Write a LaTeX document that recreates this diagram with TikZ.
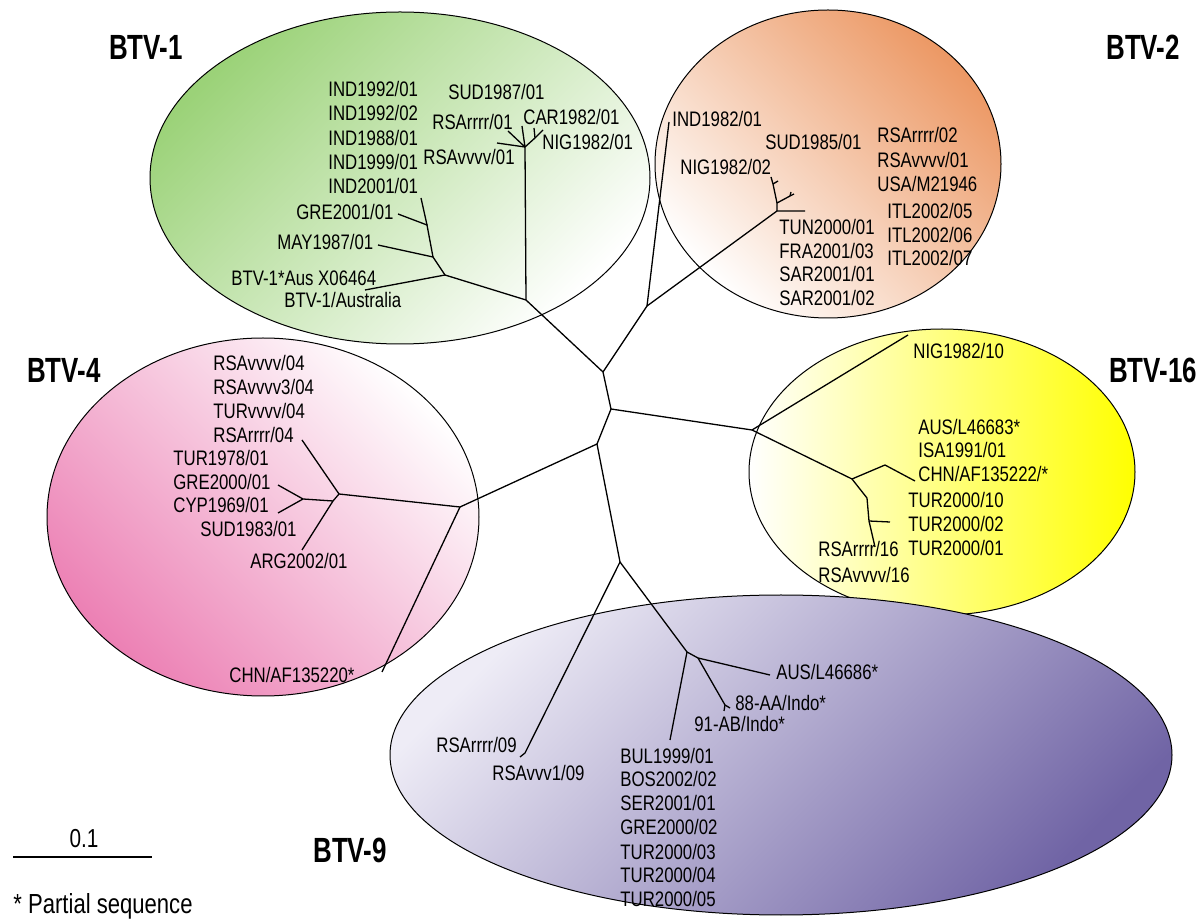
\documentclass[tikz,border=0pt]{standalone}
\usepackage{fontspec}
\setmainfont{Liberation Sans}
\newfontfamily\lblfont[FakeStretch=0.8]{Liberation Sans}
\newfontfamily\ttlfont[FakeStretch=0.74]{Liberation Sans}
\usetikzlibrary{positioning}
\definecolor{grpgreen}{RGB}{155,210,120}
\definecolor{grporange}{RGB}{236,152,100}
\definecolor{grppink}{RGB}{236,128,180}
\definecolor{grpyellow}{RGB}{255,255,0}
\definecolor{grpviolet}{RGB}{112,100,165}
\definecolor{grpmauve}{RGB}{168,158,205}
\definecolor{grplilac}{RGB}{238,236,246}
\tikzset{
  grp/.style={draw, line width=0.5pt},
  br/.style={line width=0.65pt},
  lbl/.style={anchor=west, inner sep=0pt, text height=7.5pt, text depth=0pt,
              font=\lblfont\fontsize{10.5}{12}\selectfont},
  ttl/.style={inner sep=0pt, text height=12.5pt, text depth=0pt,
              font=\ttlfont\fontsize{17.5}{20}\selectfont\bfseries},
}
\begin{document}
\begin{tikzpicture}[x=0.5pt,y=-0.5pt]
    \useasboundingbox (0,0) rectangle (1201,919);

    % serotype groups
    \shadedraw[grp, left color=grpgreen, right color=white, shading angle=45]
      (400,178) ellipse [x radius=125pt, y radius=83pt];
    \shadedraw[grp, left color=white, right color=grporange, shading angle=135]
      (828,164) ellipse [x radius=86.5pt, y radius=77pt];
    \shadedraw[grp, left color=grppink, right color=white, shading angle=135]
      (263,517) ellipse [x radius=108pt, y radius=89.5pt];
    \shadedraw[grp, left color=white, right color=grpyellow]
      (942,472) ellipse [x radius=96.5pt, y radius=71.5pt];
    \shadedraw[grp, left color=grplilac, middle color=grpmauve, right color=grpviolet,
      shading angle=45]
      (781,755) ellipse [x radius=195.5pt, y radius=80pt];

    \node[ttl] (btv1)  at (146,47)  {BTV-1};
    \node[ttl] (btv2)  at (1143,47) {BTV-2};
    \node[ttl] (btv4)  at (64,370)  {BTV-4};
    \node[ttl] (btv16) at (1153,370) {BTV-16};
    \node[ttl] (btv9)  at (350,850) {BTV-9};

    % backbone
    \coordinate (r1) at (603,372);
    \coordinate (r2) at (611,409);
    \coordinate (r3) at (597,444);
    \coordinate (r4) at (620,562);
    \coordinate (n1) at (526,300);
    \coordinate (n2) at (647,306);
    \coordinate (n16) at (752,430);
    \coordinate (n4) at (460,507);
    \coordinate (n9) at (687,652);
    \draw[br] (n1) -- (r1) -- (r2) -- (r3) -- (r4);
    \draw[br] (r1) -- (n2);
    \draw[br] (r2) -- (n16);
    \draw[br] (r3) -- (n4);
    \draw[br] (r4) -- (n9);

    % BTV-1
    \coordinate (n1a) at (525,147);
    \coordinate (n1b) at (445,275);
    \coordinate (n1c) at (433,257);
    \coordinate (n1d) at (427,225);
    \coordinate (n1e) at (535,138);
    \coordinate (e1aus) at (365,290);
    \coordinate (e1may) at (378,245);
    \coordinate (e1gre) at (398,214);
    \coordinate (e1ind) at (421,198);
    \coordinate (e1rsav) at (497,143);
    \coordinate (e1rsar) at (508,131);
    \coordinate (e1sud) at (522,126);
    \coordinate (e1car) at (534,128);
    \coordinate (e1nig) at (543,130);
    \draw[br] (n1) -- (n1a);
    \draw[br] (n1) -- (n1b) -- (e1aus);
    \draw[br] (n1b) -- (n1c) -- (e1may);
    \draw[br] (n1c) -- (n1d) -- (e1gre);
    \draw[br] (n1d) -- (e1ind);
    \draw[br] (n1a) -- (e1rsav);
    \draw[br] (n1a) -- (e1rsar);
    \draw[br] (n1a) -- (e1sud);
    \draw[br] (n1a) -- (n1e) -- (e1nig);
    \draw[br] (n1e) -- (e1car);

    \node[lbl] (ind9201) at (328,89)  {IND1992/01};
    \node[lbl] (ind9202) at (328,113) {IND1992/02};
    \node[lbl] (ind8801) at (328,138) {IND1988/01};
    \node[lbl] (ind9901) at (328,162) {IND1999/01};
    \node[lbl] (ind0101) at (328,186) {IND2001/01};
    \node[lbl] (sud8701) at (448,92)  {SUD1987/01};
    \node[lbl] (rsar01)  at (432,122) {RSArrrr/01};
    \node[lbl] (car8201) at (523,117) {CAR1982/01};
    \node[lbl] (nig8201) at (542,142) {NIG1982/01};
    \node[lbl] (rsav01)  at (423,157) {RSAvvvv/01};
    \node[lbl] (gre0101) at (296,212) {GRE2001/01};
    \node[lbl] (may8701) at (277,242) {MAY1987/01};
    \node[lbl] (ausx)    at (231,278) {BTV-1*Aus X06464};
    \node[lbl] (austr)   at (284,300) {BTV-1/Australia};

    % BTV-2
    \coordinate (e2ind) at (669,122);
    \coordinate (n2a) at (777,211);
    \coordinate (n2b) at (777,203);
    \coordinate (n2c) at (773,184);
    \coordinate (n2d) at (790,196);
    \coordinate (e2tun) at (805,211);
    \coordinate (e2mid) at (794,194);
    \coordinate (e2midb) at (791,192);
    \coordinate (e2top) at (771,177);
    \coordinate (e2topb) at (778,181);
    \draw[br] (n2) -- (e2ind);
    \draw[br] (n2) -- (n2a) -- (e2tun);
    \draw[br] (n2a) -- (n2b) -- (n2d) -- (e2mid);
    \draw[br] (n2d) -- (e2midb);
    \draw[br] (n2b) -- (n2c) -- (e2top);
    \draw[br] (n2c) -- (e2topb);

    \node[lbl] (ind8201) at (672,119) {IND1982/01};
    \node[lbl] (sud8501) at (765,142) {SUD1985/01};
    \node[lbl] (nig8202) at (680,167) {NIG1982/02};
    \node[lbl] (rsar02)  at (877,135) {RSArrrr/02};
    \node[lbl] (rsav01b) at (877,160) {RSAvvvv/01};
    \node[lbl] (usam)    at (877,184) {USA/M21946};
    \node[lbl] (itl05)   at (887,211) {ITL2002/05};
    \node[lbl] (itl06)   at (887,235) {ITL2002/06};
    \node[lbl] (itl07)   at (887,258) {ITL2002/07};
    \node[lbl] (tun0001) at (779,227) {TUN2000/01};
    \node[lbl] (fra0103) at (779,251) {FRA2001/03};
    \node[lbl] (sar0101) at (779,274) {SAR2001/01};
    \node[lbl] (sar0102) at (779,298) {SAR2001/02};

    % BTV-4
    \coordinate (n4a) at (339,494);
    \coordinate (n4b) at (333,501);
    \coordinate (n4c) at (303,499);
    \coordinate (e4chn) at (382,672);
    \coordinate (e4rsar) at (302,440);
    \coordinate (e4arg) at (302,550);
    \coordinate (e4gre) at (278,485);
    \coordinate (e4cyp) at (278,513);
    \draw[br] (n4) -- (e4chn);
    \draw[br] (n4) -- (n4a) -- (e4rsar);
    \draw[br] (n4a) -- (n4b) -- (e4arg);
    \draw[br] (n4b) -- (n4c) -- (e4gre);
    \draw[br] (n4c) -- (e4cyp);

    \node[lbl] (rsav04)  at (213,363) {RSAvvvv/04};
    \node[lbl] (rsav304) at (213,387) {RSAvvvv3/04};
    \node[lbl] (turv04)  at (213,411) {TURvvvv/04};
    \node[lbl] (rsar04)  at (213,435) {RSArrrr/04};
    \node[lbl] (tur7801) at (173,458) {TUR1978/01};
    \node[lbl] (gre0001) at (173,482) {GRE2000/01};
    \node[lbl] (cyp6901) at (173,505) {CYP1969/01};
    \node[lbl] (sud8301) at (200,529) {SUD1983/01};
    \node[lbl] (arg0201) at (250,561) {ARG2002/01};
    \node[lbl] (chn220)  at (229,675) {CHN/AF135220*};

    % BTV-16
    \coordinate (n16a) at (852,479);
    \coordinate (n16b) at (885,465);
    \coordinate (n16c) at (867,498);
    \coordinate (n16d) at (869,521);
    \coordinate (e16nig) at (908,335);
    \coordinate (e16chn) at (915,481);
    \coordinate (e16tur) at (890,522);
    \coordinate (e16rsa) at (875,547);
    \draw[br] (n16) -- (e16nig);
    \draw[br] (n16) -- (n16a) -- (n16b) -- (e16chn);
    \draw[br] (n16a) -- (n16c) -- (n16d) -- (e16rsa);
    \draw[br] (n16d) -- (e16tur);

    \node[lbl] (nig8210) at (913,351) {NIG1982/10};
    \node[lbl] (aus683)  at (918,427) {AUS/L46683*};
    \node[lbl] (isa9101) at (918,450) {ISA1991/01};
    \node[lbl] (chn222)  at (918,474) {CHN/AF135222/*};
    \node[lbl] (tur0010) at (908,500) {TUR2000/10};
    \node[lbl] (tur0002) at (908,524) {TUR2000/02};
    \node[lbl] (tur0001) at (908,548) {TUR2000/01};
    \node[lbl] (rsar16)  at (818,549) {RSArrrr/16};
    \node[lbl] (rsav16)  at (818,575) {RSAvvvv/16};

    % BTV-9
    \coordinate (n9a) at (698,658);
    \coordinate (e9rsa) at (525,753);
    \coordinate (e9rsb) at (520,757);
    \coordinate (e9bul) at (670,740);
    \coordinate (e9aus) at (770,675);
    \coordinate (e9indo) at (725,705);
    \coordinate (e9indob) at (730,708);
    \coordinate (e9indoc) at (724,711);
    \draw[br] (r4) -- (e9rsa) -- (e9rsb);
    \draw[br] (n9) -- (e9bul);
    \draw[br] (n9) -- (n9a) -- (e9aus);
    \draw[br] (n9a) -- (e9indo) -- (e9indob);
    \draw[br] (e9indo) -- (e9indoc);

    \node[lbl] (aus686)  at (776,672) {AUS/L46686*};
    \node[lbl] (aa88)    at (735,703) {88-AA/Indo*};
    \node[lbl] (ab91)    at (694,724) {91-AB/Indo*};
    \node[lbl] (rsar09)  at (436,745) {RSArrrr/09};
    \node[lbl] (rsav09)  at (492,773) {RSAvvv1/09};
    \node[lbl] (bul9901) at (620,756) {BUL1999/01};
    \node[lbl] (bos0202) at (620,779) {BOS2002/02};
    \node[lbl] (ser0101) at (620,803) {SER2001/01};
    \node[lbl] (gre0002) at (620,827) {GRE2000/02};
    \node[lbl] (tur0003) at (620,852) {TUR2000/03};
    \node[lbl] (tur0004) at (620,875) {TUR2000/04};
    \node[lbl] (tur0005) at (620,899) {TUR2000/05};

    % scale and footnote
    \coordinate (sb1) at (13,857);
    \coordinate (sb2) at (152,857);
    \draw[br] (sb1) -- (sb2);
    \node[inner sep=0pt, text height=9.3pt, text depth=0pt,
          font=\lblfont\fontsize{13}{15}\selectfont] (scale) at (84,838) {0.1};
    \node[lbl, text height=9.9pt, font=\lblfont\fontsize{13.8}{16}\selectfont]
      (partial) at (13,904) {* Partial sequence};
\end{tikzpicture}
\end{document}
